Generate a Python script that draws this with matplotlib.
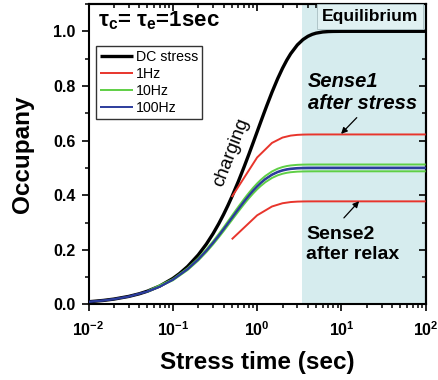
import matplotlib
matplotlib.use("Agg")
import matplotlib.pyplot as plt
from matplotlib.ticker import LogLocator, NullFormatter, MultipleLocator, FixedLocator, FixedFormatter

plt.rcParams['font.family'] = ['Liberation Sans', 'DejaVu Sans']
plt.rcParams['mathtext.fontset'] = 'custom'
plt.rcParams['mathtext.rm'] = 'Liberation Sans:bold'
plt.rcParams['mathtext.bf'] = 'Liberation Sans:bold'
plt.rcParams['mathtext.it'] = 'Liberation Sans:bold:italic'
plt.rcParams['mathtext.default'] = 'rm'

# --- data -------------------------------------------------------------
t_dc = [0.01, 0.015, 0.02, 0.03, 0.04, 0.05, 0.07, 0.1, 0.12, 0.15, 0.2, 0.25,
        0.3, 0.35, 0.4, 0.45, 0.5, 0.6, 0.7, 0.8, 0.9, 1.0, 1.1, 1.2, 1.3, 1.5,
        1.75, 2.0, 2.25, 2.5, 3.0, 3.5, 4.0, 4.5, 5.0, 6.0, 7.0, 8.0, 10.0, 15.0,
        20.0, 50.0, 100.0]
occ_dc = [0.00995, 0.01489, 0.0198, 0.02956, 0.03921, 0.04877, 0.0676, 0.09516,
          0.11308, 0.13929, 0.18127, 0.2212, 0.25918, 0.29531, 0.32968, 0.36237,
          0.39347, 0.45119, 0.50341, 0.55067, 0.59343, 0.63212, 0.66713, 0.69881,
          0.72747, 0.77687, 0.82623, 0.86466, 0.8946, 0.91792, 0.95021, 0.9698,
          0.98168, 0.98889, 0.99326, 0.99752, 0.99909, 0.99966, 0.99995, 1.0,
          1.0, 1.0, 1.0]

t_1hz = [0.5, 1.0, 1.5, 2.0, 2.5, 3.0, 3.5, 4.0, 5.0, 10.0, 100.0]
occ_1hz_sense1 = [0.39347, 0.53822, 0.59147, 0.61106, 0.61827, 0.62092, 0.6219,
                  0.62226, 0.62244, 0.62246, 0.62246]
occ_1hz_sense2 = [0.23865, 0.32645, 0.35874, 0.37063, 0.375, 0.37661, 0.3772,
                  0.37742, 0.37753, 0.37754, 0.37754]

t_10hz = [0.05, 0.1, 0.15, 0.2, 0.25, 0.3, 0.35, 0.4, 0.45, 0.5, 0.55, 0.6, 0.7,
          0.75, 0.8, 0.9, 1.0, 1.1, 1.25, 1.5, 1.75, 2.0, 2.25, 2.5, 3.0, 3.5,
          4.0, 5.0, 10.0, 100.0]
occ_10hz_sense1 = [0.04877, 0.0929, 0.13283, 0.16896, 0.20165, 0.23123, 0.25799,
                   0.28221, 0.30413, 0.32395, 0.3419, 0.35813, 0.38611, 0.39814,
                   0.40902, 0.42778, 0.44313, 0.45571, 0.47042, 0.48697, 0.49701,
                   0.50311, 0.5068, 0.50904, 0.51122, 0.51202, 0.51232, 0.51246,
                   0.51249, 0.51249]
occ_10hz_sense2 = [0.04639, 0.08837, 0.12635, 0.16072, 0.19182, 0.21995, 0.24541,
                   0.26845, 0.2893, 0.30816, 0.32523, 0.34067, 0.36728, 0.37872,
                   0.38907, 0.40692, 0.42152, 0.43349, 0.44749, 0.46323, 0.47278,
                   0.47857, 0.48208, 0.48421, 0.48629, 0.48706, 0.48733, 0.48748,
                   0.4875, 0.4875]

t_100hz = [0.01, 0.015, 0.02, 0.03, 0.05, 0.07, 0.1, 0.15, 0.2, 0.25, 0.3, 0.35,
           0.4, 0.45, 0.5, 0.55, 0.6, 0.7, 0.75, 0.8, 0.9, 1.0, 1.1, 1.25, 1.5,
           1.75, 2.0, 2.25, 2.5, 3.0, 3.5, 4.0, 5.0, 10.0, 100.0]
occ_100hz_sense1 = [0.00992, 0.01482, 0.01965, 0.02919, 0.0477, 0.06548, 0.09086,
                    0.12991, 0.16525, 0.19723, 0.22616, 0.25233, 0.27602, 0.29746,
                    0.31685, 0.3344, 0.35028, 0.37764, 0.38941, 0.40005, 0.4184,
                    0.43341, 0.44571, 0.46011, 0.4763, 0.48611, 0.49207, 0.49568,
                    0.49787, 0.50001, 0.50079, 0.50108, 0.50122, 0.50125, 0.50125]
occ_100hz_sense2 = [0.00988, 0.01474, 0.01956, 0.02905, 0.04746, 0.06516, 0.09041,
                    0.12927, 0.16443, 0.19624, 0.22503, 0.25108, 0.27465, 0.29597,
                    0.31527, 0.33273, 0.34853, 0.37576, 0.38746, 0.39805, 0.41631,
                    0.43125, 0.44349, 0.45781, 0.47392, 0.48368, 0.48961, 0.49321,
                    0.49539, 0.49751, 0.4983, 0.49858, 0.49873, 0.49875, 0.49875]

series_labels = ['DC stress', '1Hz', '10Hz', '100Hz']
x_ticks = [0.01, 0.1, 1, 10, 100]
x_tick_labels = [r'$10^{-2}$', r'$10^{-1}$', r'$10^{0}$', r'$10^{1}$', r'$10^{2}$']
y_ticks = [0.0, 0.2, 0.4, 0.6, 0.8, 1.0]
y_tick_labels = ['0.0', '0.2', '0.4', '0.6', '0.8', '1.0']
equilibrium_start = 3.4

# --- styling ----------------------------------------------------------
c_dc = '#000000'
c_1hz = '#e8352c'
c_10hz = '#5fcf45'
c_100hz = '#2c3c9c'
c_shade = '#d6ecee'

fig = plt.figure(figsize=(4.38, 3.80), dpi=100)
ax = fig.add_axes([0.2021, 0.1987, 0.7699, 0.7908])

ax.axvspan(equilibrium_start, 100, color=c_shade, zorder=0, lw=0)

line_kw = dict(solid_joinstyle='round', solid_capstyle='butt')
ax.plot(t_dc, occ_dc, color=c_dc, lw=2.4, label=series_labels[0], zorder=3, **line_kw)
ax.plot(t_1hz, occ_1hz_sense1, color=c_1hz, lw=1.4, label=series_labels[1], zorder=4, **line_kw)
ax.plot(t_1hz, occ_1hz_sense2, color=c_1hz, lw=1.4, zorder=4, **line_kw)
ax.plot(t_10hz, occ_10hz_sense1, color=c_10hz, lw=1.4, label=series_labels[2], zorder=4, **line_kw)
ax.plot(t_10hz, occ_10hz_sense2, color=c_10hz, lw=1.4, zorder=4, **line_kw)
ax.plot(t_100hz, occ_100hz_sense1, color=c_100hz, lw=1.4, label=series_labels[3], zorder=5, **line_kw)
ax.plot(t_100hz, occ_100hz_sense2, color=c_100hz, lw=1.4, zorder=5, **line_kw)

ax.set_xscale('log')
ax.set_xlim(0.01, 100)
ax.set_ylim(0.0, 1.1)

ax.xaxis.set_major_locator(FixedLocator(x_ticks))
ax.xaxis.set_major_formatter(FixedFormatter(x_tick_labels))
ax.xaxis.set_minor_locator(LogLocator(base=10, subs=range(2, 10)))
ax.xaxis.set_minor_formatter(NullFormatter())
ax.yaxis.set_major_locator(FixedLocator(y_ticks))
ax.yaxis.set_major_formatter(FixedFormatter(y_tick_labels))
ax.yaxis.set_minor_locator(MultipleLocator(0.1))

for s in ax.spines.values():
    s.set_linewidth(1.5)
ax.tick_params(which='major', direction='out', length=4.8, width=1.2,
               labelsize=11.5)
ax.tick_params(axis='x', which='major', pad=6.5)
ax.tick_params(axis='y', which='major', pad=4.5)
ax.tick_params(which='minor', direction='out', length=2.6, width=1.1)
for lab in ax.get_xticklabels() + ax.get_yticklabels():
    lab.set_fontweight('bold')

# inward ticks on the top and right edges
secx = ax.secondary_xaxis('top')
secx.xaxis.set_major_locator(FixedLocator(x_ticks))
secx.xaxis.set_minor_locator(LogLocator(base=10, subs=range(2, 10)))
secx.xaxis.set_major_formatter(NullFormatter())
secx.xaxis.set_minor_formatter(NullFormatter())
secx.tick_params(which='major', direction='in', length=4.8, width=1.2)
secx.tick_params(which='minor', direction='in', length=2.6, width=1.1)
secx.spines['top'].set_linewidth(1.5)

secy = ax.secondary_yaxis('right')
secy.yaxis.set_major_locator(FixedLocator(y_ticks))
secy.yaxis.set_minor_locator(MultipleLocator(0.1))
secy.yaxis.set_major_formatter(NullFormatter())
secy.yaxis.set_minor_formatter(NullFormatter())
secy.tick_params(which='major', direction='in', length=4.8, width=1.2)
secy.tick_params(which='minor', direction='in', length=2.6, width=1.1)
secy.spines['right'].set_linewidth(1.5)

ax.set_xlabel('Stress time (sec)', fontsize=17.5, fontweight='bold', labelpad=9)
ax.set_ylabel('Occupany', fontsize=17.5, fontweight='bold', labelpad=14)

leg = ax.legend(loc='upper left', bbox_to_anchor=(0.022, 0.860), borderaxespad=0,
                fontsize=10.2, frameon=True, fancybox=False, edgecolor='black',
                handlelength=2.3, handletextpad=0.2, labelspacing=0.2,
                borderpad=0.3)
leg.get_frame().set_linewidth(1.0)
leg.set_zorder(6)

ax.text(0.028, 0.982, r'$\tau_c$= $\tau_e$=1sec', transform=ax.transAxes,
        fontsize=16, fontweight='bold', ha='left', va='top')
ax.text(21.8, 1.055, 'Equilibrium', fontsize=12.6, fontweight='bold',
        ha='center', va='center', zorder=6,
        bbox=dict(boxstyle='square,pad=0.3', facecolor='#e0f1f2',
                  edgecolor='#a9bfc2', linewidth=0.6))
ax.text(4.02, 0.818, 'Sense1', fontsize=14.5, fontweight='bold', style='italic',
        ha='left', va='center')
ax.text(4.02, 0.736, 'after stress', fontsize=14.5, fontweight='bold',
        style='italic', ha='left', va='center')
ax.text(3.80, 0.255, 'Sense2', fontsize=14, fontweight='bold', ha='left',
        va='center')
ax.text(3.80, 0.182, 'after relax', fontsize=14, fontweight='bold', ha='left',
        va='center')
ax.text(0.49, 0.556, 'charging', fontsize=13.5, rotation=69, ha='center',
        va='center')

arrow = dict(arrowstyle='-|>', color='black', lw=0.9, mutation_scale=9,
             shrinkA=0, shrinkB=0)
ax.annotate('', xy=(9.9, 0.6246), xytext=(15.2, 0.684), arrowprops=arrow, zorder=7)
ax.annotate('', xy=(16.2, 0.378), xytext=(10.7, 0.317), arrowprops=arrow, zorder=7)

fig.savefig('out.png', dpi=100)
